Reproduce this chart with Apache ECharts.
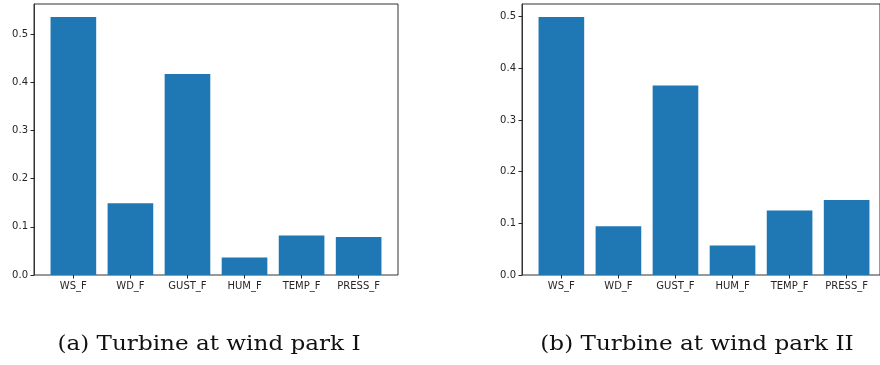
<!DOCTYPE html>
<html>
<head>
<meta charset="utf-8">
<script src="https://cdn.jsdelivr.net/npm/echarts@6/dist/echarts.min.js"></script>
<style>
  html, body { margin: 0; padding: 0; background: #fff; }
  #chart { width: 880px; height: 365px; }
</style>
</head>
<body>
<div id="chart"></div>
<script>
// Feature importances of the forecast inputs for two turbines
const features = ['WS_F', 'WD_F', 'GUST_F', 'HUM_F', 'TEMP_F', 'PRESS_F'];
const parkI  = [0.536, 0.149, 0.4175, 0.0366, 0.082, 0.079];
const parkII = [0.4996, 0.0944, 0.367, 0.057, 0.125, 0.145];
const captions = ['(a) Turbine at wind park I', '(b) Turbine at wind park II'];

const BAR = '#1f77b4';
const INK = '#262626';
const SPINE = '#333';

// Panel frames (axes boxes)
const frameTop = 4, frameH = 271, frameW = 364;
const frameLeft = [34, 522];

// The plotted x range is the bars (width 0.8) plus a 5% margin each side,
// so the category band sits inside the frame with a small inset.
const n = features.length;
const span = (n - 1) + 0.8;
const units = span * 1.1;                       // total x range in category units
const inset = (0.05 * span - 0.1) / units * frameW; // gap between frame and first band

function frameGrid(left) {
  return { left, top: frameTop, width: frameW, height: frameH, show: true,
           borderColor: SPINE, borderWidth: 1, backgroundColor: 'transparent' };
}
function dataGrid(left) {
  return { left: left + inset, top: frameTop, width: frameW - 2 * inset, height: frameH };
}
function xAxisFor(gridIndex) {
  return {
    type: 'category', gridIndex, data: features, boundaryGap: true,
    axisLine: { show: false },
    splitLine: { show: false },
    axisTick: { show: true, inside: false, length: 3.5, alignWithLabel: true,
                lineStyle: { color: INK, width: 1 } },
    axisLabel: { margin: 6, interval: 0, color: INK, fontFamily: 'DejaVu Sans', fontSize: 10 }
  };
}
function yAxisFor(gridIndex, values) {
  return {
    type: 'value', gridIndex, min: 0, max: Math.max(...values) * 1.05, interval: 0.1,
    offset: inset,
    axisLine: { show: true, lineStyle: { color: SPINE, width: 1 } },
    splitLine: { show: false },
    axisTick: { show: true, inside: false, length: 3.5, lineStyle: { color: INK, width: 1 } },
    axisLabel: { margin: 6, showMaxLabel: false, formatter: v => v.toFixed(1),
                 color: INK, fontFamily: 'DejaVu Sans', fontSize: 10 }
  };
}
function barsFor(i, values) {
  return {
    type: 'bar', xAxisIndex: i, yAxisIndex: i,
    data: values,
    barWidth: '80%',
    itemStyle: { color: BAR },
    silent: true
  };
}
function caption(text, x) {
  return { type: 'text', x, y: 345, scaleX: 1.1,
           style: { text, textAlign: 'center', textVerticalAlign: 'middle',
                    fontFamily: 'DejaVu Serif', fontSize: 21, fill: '#111' } };
}

const chart = echarts.init(document.getElementById('chart'), null, { renderer: 'canvas' });
chart.setOption({
  animation: false,
  backgroundColor: '#fff',
  grid: [frameGrid(frameLeft[0]), frameGrid(frameLeft[1]),
         dataGrid(frameLeft[0]), dataGrid(frameLeft[1])],
  xAxis: [xAxisFor(2), xAxisFor(3)],
  yAxis: [yAxisFor(2, parkI), yAxisFor(3, parkII)],
  series: [barsFor(0, parkI), barsFor(1, parkII)],
  graphic: [caption(captions[0], 209), caption(captions[1], 697)]
});
</script>
</body>
</html>
